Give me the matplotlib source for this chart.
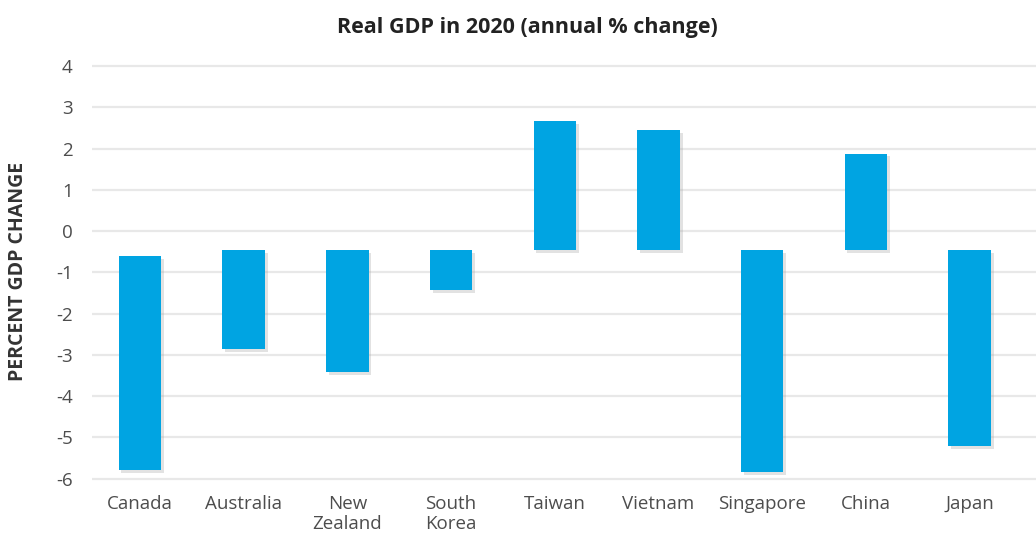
import matplotlib.pyplot as plt
import matplotlib.patheffects as pe

# Floating bars: each runs from its start level to the 2020 GDP change
countries = ["Canada", "Australia", "New\nZealand", "South\nKorea", "Taiwan",
             "Vietnam", "Singapore", "China", "Japan"]
bar_start = [-0.6, -0.46, -0.46, -0.46, -0.46, -0.46, -0.46, -0.46, -0.46]
gdp_change = [-5.8, -2.86, -3.42, -1.43, 2.67, 2.45, -5.84, 1.88, -5.21]
y_ticks = [4, 3, 2, 1, 0, -1, -2, -3, -4, -5, -6]

plt.rcParams['font.family'] = ['Open Sans', 'DejaVu Sans']

fig = plt.figure(figsize=(10.36, 5.33), dpi=100)
ax = fig.add_axes([0.089, 0.098, 0.911, 0.782])

x = range(len(countries))
heights = [end - start for start, end in zip(bar_start, gdp_change)]
bars = ax.bar(x, heights, bottom=bar_start, width=0.41, color="#00a4e2", zorder=3)
for b in bars:
    b.set_path_effects([pe.SimplePatchShadow(offset=(2, -2), shadow_rgbFace="#999999", alpha=0.28),
                        pe.Normal()])

ax.set_xlim(-0.46, 8.64)
ax.set_ylim(-6.05, 4.05)
ax.set_yticks(y_ticks)
ax.set_yticklabels([str(t) for t in y_ticks])
ax.set_xticks(list(x))
ax.set_xticklabels(countries, linespacing=1.15)
ax.yaxis.grid(True, color="#e8e8e8", linewidth=1.6, zorder=0)
ax.set_axisbelow(True)
for s in ax.spines.values():
    s.set_visible(False)
ax.tick_params(axis="both", length=0, labelsize=13.5, colors="#4d4d4d")
ax.tick_params(axis="y", pad=14)
ax.tick_params(axis="x", pad=10.5)

fig.text(0.509, 0.948, "Real GDP in 2020 (annual % change)", ha="center", va="center",
         fontsize=15.5, fontweight="bold", color="#222222")
fig.text(0.017, 0.49, "PERCENT GDP CHANGE", rotation=90, ha="center", va="center",
         fontsize=14, fontweight="bold", color="#333333")

fig.savefig("out.png", dpi=100)
